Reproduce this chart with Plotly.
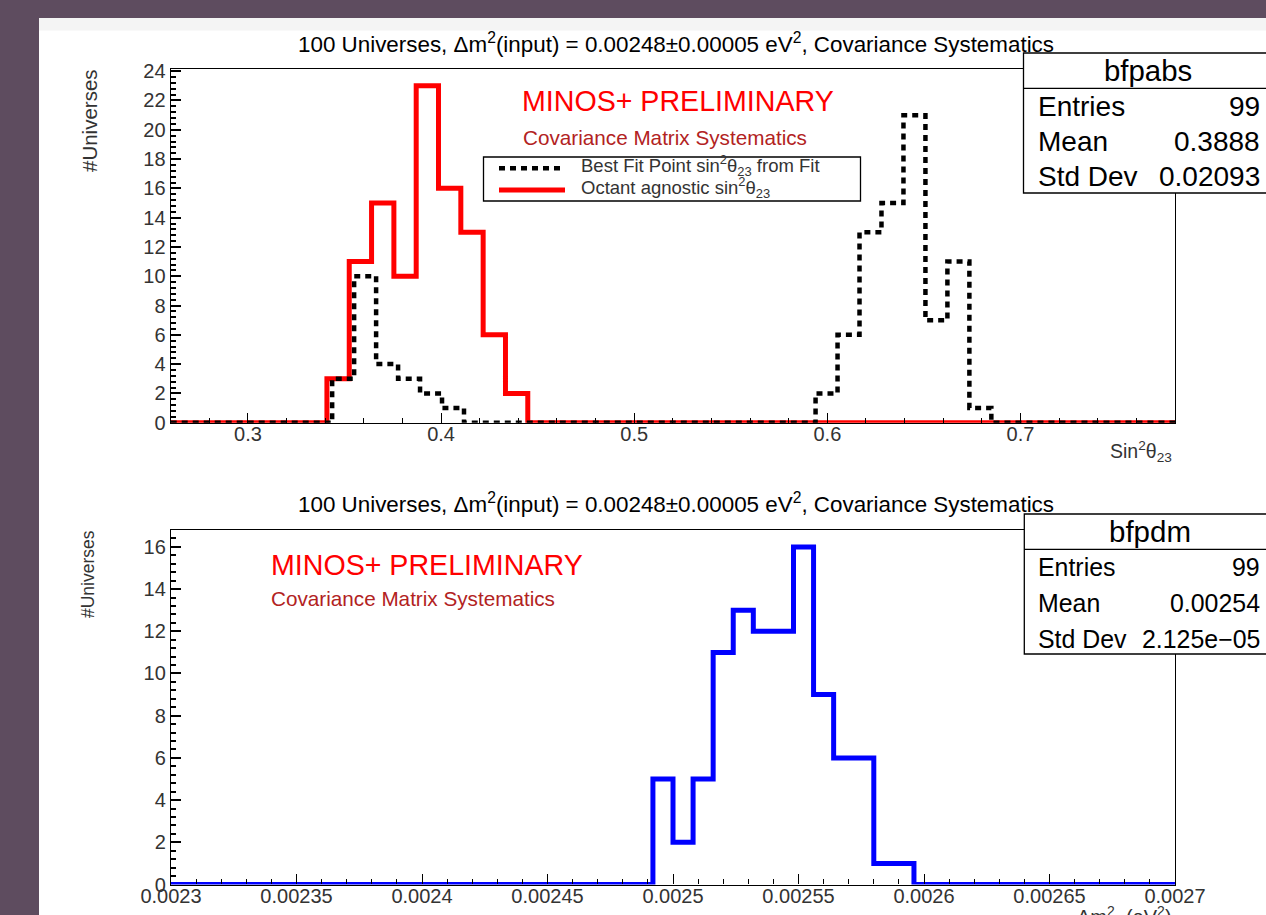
import plotly.graph_objects as go

W, H = 1266, 915

# ---------------- data ----------------
sin_lo, sin_hi, sin_nbins = 0.26, 0.78, 45
red_first_bin = 7
red_counts = [3, 11, 15, 10, 23, 16, 13, 6, 2]           # octant agnostic
black_origin, black_width = 0.3436, 0.011377
black_counts = [3, 10, 4, 3, 2, 1,
                0, 0, 0, 0, 0, 0, 0, 0, 0, 0, 0, 0, 0, 0, 0, 0,
                2, 6, 13, 15, 21, 7, 11, 1]               # best fit point
sin_ticks = [0.3, 0.4, 0.5, 0.6, 0.7]
sin_ticktext = ["0.3", "0.4", "0.5", "0.6", "0.7"]
top_yticks = list(range(0, 25, 2))

dm_lo, dm_hi, dm_nbins = 0.0023, 0.0027, 50
dm_first_bin = 24
dm_counts = [5, 2, 5, 11, 13, 12, 12, 16, 9, 6, 6, 1, 1]
dm_ticks = [0.0023, 0.00235, 0.0024, 0.00245, 0.0025, 0.00255, 0.0026, 0.00265, 0.0027]
dm_ticktext = ["0.0023", "0.00235", "0.0024", "0.00245", "0.0025", "0.00255",
               "0.0026", "0.00265", "0.0027"]
bot_yticks = list(range(0, 17, 2))

stats_top_name = "bfpabs"
stats_top_labels = ["Entries", "Mean", "Std Dev"]
stats_top_values = ["99", "0.3888", "0.02093"]
stats_bot_name = "bfpdm"
stats_bot_labels = ["Entries", "Mean", "Std Dev"]
stats_bot_values = ["99", "0.00254", "2.125e\u221205"]

title_text = "100 Universes, \u0394m<sup>2</sup>(input) = 0.00248\u00b10.00005 eV<sup>2</sup>, Covariance Systematics"
legend_labels = ["Best Fit Point sin<sup>2</sup>\u03b8<sub>23</sub> from Fit",
                 "Octant agnostic sin<sup>2</sup>\u03b8<sub>23</sub>"]

def px(x):
    return x / W

def py(y):
    return 1 - y / H

FONT = "Liberation Sans, Arial, Helvetica, sans-serif"

sin_w = (sin_hi - sin_lo) / sin_nbins
red_full = [0] * red_first_bin + red_counts + [0] * (sin_nbins - red_first_bin - len(red_counts))
red_x = [sin_lo + i * sin_w for i in range(sin_nbins)] + [sin_hi]
red_y = red_full + [0]

blk_x = [sin_lo] + [black_origin + i * black_width for i in range(len(black_counts))] + \
        [black_origin + len(black_counts) * black_width, sin_hi]
blk_y = [0] + black_counts + [0, 0]

dm_w = (dm_hi - dm_lo) / dm_nbins
dm_full = [0] * dm_first_bin + dm_counts + [0] * (dm_nbins - dm_first_bin - len(dm_counts))
dm_x = [dm_lo + i * dm_w for i in range(dm_nbins)] + [dm_hi]
dm_y = dm_full + [0]

fig = go.Figure()
fig.add_trace(go.Scatter(x=red_x, y=red_y, mode="lines", line=dict(color="#ff0000", width=5, shape="hv"),
                         xaxis="x", yaxis="y", showlegend=False, hoverinfo="skip"))
fig.add_trace(go.Scatter(x=blk_x, y=blk_y, mode="lines",
                         line=dict(color="#000000", width=4.5, shape="hv", dash="6px,5px"),
                         xaxis="x", yaxis="y", showlegend=False, hoverinfo="skip"))
fig.add_trace(go.Scatter(x=dm_x, y=dm_y, mode="lines", line=dict(color="#0000ff", width=5, shape="hv"),
                         xaxis="x2", yaxis="y2", showlegend=False, hoverinfo="skip"))

def axis_common(tw):
    return dict(showgrid=False, zeroline=False, showline=True, mirror=True, automargin=False,
                linecolor="#000000", linewidth=1.3, ticks="inside", tickcolor="#000000",
                tickwidth=tw, ticklen=10, layer="above traces",
                tickfont=dict(family=FONT, size=20, color="#333333"))

def minor(dt, t0, tw):
    return dict(ticks="inside", tickmode="linear", ticklen=5, dtick=dt, tick0=t0,
                tickcolor="#000000", tickwidth=tw, showgrid=False)

fig.update_layout(
    width=W, height=H, autosize=False,
    margin=dict(l=0, r=0, t=0, b=0, pad=0, autoexpand=False),
    paper_bgcolor="#5e4c5f", plot_bgcolor="#ffffff",
    xaxis=dict(domain=[px(170.7), px(1175)], range=[sin_lo, sin_hi], anchor="y",
               tickmode="array", tickvals=sin_ticks, ticktext=sin_ticktext, ticklabelstandoff=-7,
               minor=minor(0.02, 0.26, 1.4), **axis_common(1.4)),
    yaxis=dict(domain=[py(422.7), py(69)], range=[0, 24.15], anchor="x",
               tickmode="array", tickvals=top_yticks, ticklabelstandoff=0,
               minor=minor(0.4, 0, 1.8), **axis_common(1.8)),
    xaxis2=dict(domain=[px(171), px(1175)], range=[dm_lo, dm_hi], anchor="y2",
                tickmode="array", tickvals=dm_ticks, ticktext=dm_ticktext, ticklabelstandoff=-7,
                minor=minor(0.00001, 0.0023, 1.4), **axis_common(1.4)),
    yaxis2=dict(domain=[py(884.5), py(530)], range=[0, 16.8], anchor="x2",
                tickmode="array", tickvals=bot_yticks, ticklabelstandoff=0,
                minor=minor(0.4, 0, 1.8), **axis_common(1.8)),
)

shapes = []
shapes.append(dict(type="rect", xref="paper", yref="paper", x0=px(39), x1=1.0, y0=0, y1=py(18),
                   fillcolor="#ffffff", line=dict(width=0), layer="below"))
shapes.append(dict(type="rect", xref="paper", yref="paper", x0=px(39), x1=1.0, y0=py(30.5), y1=py(18),
                   fillcolor="#f4f4f4", line=dict(width=0), layer="below"))

def stats_box(x0, y0, ydiv, y1):
    shapes.append(dict(type="rect", xref="paper", yref="paper", x0=px(x0), x1=px(1275), y0=py(y1), y1=py(y0),
                       fillcolor="#ffffff", line=dict(color="#000000", width=1.3), layer="above"))
    shapes.append(dict(type="line", xref="paper", yref="paper", x0=px(x0), x1=px(1275), y0=py(ydiv), y1=py(ydiv),
                       line=dict(color="#000000", width=1.3), layer="above"))

stats_box(1023.5, 53, 88.3, 193)
stats_box(1024.3, 514, 549.3, 654)

shapes.append(dict(type="rect", xref="paper", yref="paper", x0=px(483.5), x1=px(860.5), y0=py(201), y1=py(157),
                   fillcolor="#ffffff", line=dict(color="#000000", width=1.3), layer="above"))
shapes.append(dict(type="line", xref="paper", yref="paper", x0=px(499), x1=px(560), y0=py(168.3), y1=py(168.3),
                   line=dict(color="#000000", width=4.5, dash="6px,5px"), layer="above"))
shapes.append(dict(type="line", xref="paper", yref="paper", x0=px(499), x1=px(565), y0=py(190), y1=py(190),
                   line=dict(color="#ff0000", width=5), layer="above"))
fig.update_layout(shapes=shapes)

ann = []
def text(x, y, s, size, color="#000000", xa="center", ya="middle", angle=0):
    ann.append(dict(x=px(x), y=py(y), xref="paper", yref="paper", text=s, showarrow=False,
                    xanchor=xa, yanchor=ya, textangle=angle, borderpad=0,
                    font=dict(family=FONT, size=size, color=color)))

text(675.5, 43, title_text, 22.4, "#000000")
text(675.5, 503, title_text, 22.4, "#000000")

text(521, 101.5, "MINOS+ PRELIMINARY", 28.6, "#ff0000", xa="left")
text(522, 137, "Covariance Matrix Systematics", 20.7, "#b22222", xa="left")
text(270, 564.5, "MINOS+ PRELIMINARY", 28.6, "#ff0000", xa="left")
text(270, 598.5, "Covariance Matrix Systematics", 20.7, "#b22222", xa="left")

text(580, 165.5, legend_labels[0], 18.5, "#333333", xa="left")
text(580, 188, legend_labels[1], 18.5, "#333333", xa="left")

text(89, 121, "#Universes", 20.5, "#333333", angle=-90)
text(88, 574, "#Universes", 17.5, "#333333", angle=-90)
text(1173, 451, "Sin<sup>2</sup>\u03b8<sub>23</sub>", 19.5, "#333333", xa="right")
text(1173, 916, "\u0394m<sup>2</sup>  (eV<sup>2</sup>)", 20, "#333333", xa="right")

text(1148, 70.5, stats_top_name, 29.4, "#000000")
for i, (lab, val) in enumerate(zip(stats_top_labels, stats_top_values)):
    yy = [106, 141.7, 176.7][i]
    text(1036.5, yy, lab, 28, "#000000", xa="left")
    text(1261, yy, val, 28, "#000000", xa="right")

text(1150, 531.7, stats_bot_name, 29.5, "#000000")
for i, (lab, val) in enumerate(zip(stats_bot_labels, stats_bot_values)):
    yy = [567, 603, 639][i]
    text(1036.5, yy, lab, 24.9, "#000000", xa="left")
    text(1261, yy, val, 24.9, "#000000", xa="right")

fig.update_layout(annotations=ann)
fig.write_html("out.html")
